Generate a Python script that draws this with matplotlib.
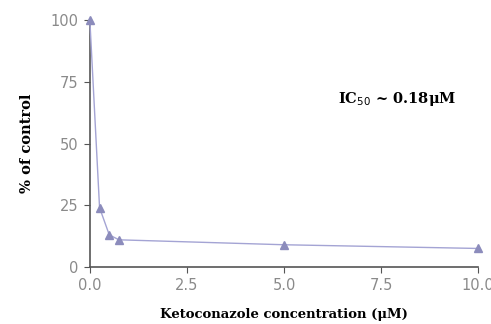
import matplotlib
matplotlib.use("Agg")
import matplotlib.pyplot as plt

conc = [0.0, 0.25, 0.5, 0.75, 5.0, 10.0]
pct_control = [100, 24, 13, 11, 9, 7.5]
xticks = [0.0, 2.5, 5.0, 7.5, 10.0]
yticks = [0, 25, 50, 75, 100]

fig = plt.figure(figsize=(4.91, 3.24), dpi=100)
ax = fig.add_axes([0.183, 0.176, 0.791, 0.762])
ax.plot(conc, pct_control, color="#a4a4d4", lw=1.0, marker="^", ms=5.5,
        mfc="#8c8cbc", mec="#8c8cbc", clip_on=False, zorder=3)
ax.set_xlim(0, 10)
ax.set_ylim(0, 100)
ax.set_xticks(xticks)
ax.set_xticklabels([f"{t:.1f}" for t in xticks])
ax.set_yticks(yticks)
for s in ["top", "right"]:
    ax.spines[s].set_visible(False)
for s in ["left", "bottom"]:
    ax.spines[s].set_color("#555555")
    ax.spines[s].set_linewidth(1.2)
ax.tick_params(direction="out", length=4, color="#555555", labelsize=10.5,
               labelcolor="#8a8a8a", pad=4)
ax.set_xlabel("Ketoconazole concentration (μM)", family="DejaVu Serif",
              fontweight="bold", fontsize=9.5, labelpad=11)
ax.set_ylabel("% of control", family="DejaVu Serif", fontweight="bold",
              fontsize=10.5, labelpad=12)
ax.text(6.4, 68, "IC$_{50}$ ~ 0.18μM", family="DejaVu Serif",
        fontweight="bold", fontsize=10.5, va="center", ha="left")
fig.savefig("out.png", dpi=100)
